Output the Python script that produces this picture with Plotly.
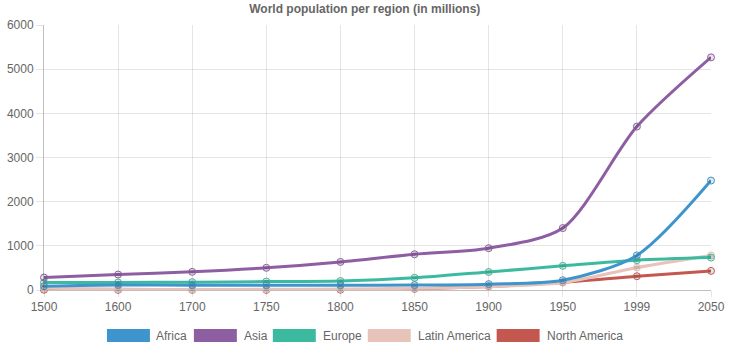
import plotly.graph_objects as go

years = ["1500", "1600", "1700", "1750", "1800", "1850", "1900", "1950", "1999", "2050"]
africa = [86, 114, 106, 106, 107, 111, 133, 221, 783, 2478]
asia = [282, 350, 411, 502, 635, 809, 947, 1402, 3700, 5267]
europe = [168, 170, 178, 190, 203, 276, 408, 547, 675, 734]
latin_america = [40, 20, 10, 16, 24, 38, 74, 167, 508, 784]
north_america = [6, 3, 2, 2, 7, 26, 82, 172, 312, 433]

series = [
    ("Africa", africa, "#3e95cd"),
    ("Asia", asia, "#8e5ea2"),
    ("Europe", europe, "#3cba9f"),
    ("Latin America", latin_america, "#e8c3b9"),
    ("North America", north_america, "#c45850"),
]

fig = go.Figure()
for name, vals, col in reversed(series):
    fig.add_trace(go.Scatter(
        x=years, y=vals, name=name, mode="lines+markers",
        line=dict(color=col, width=3, shape="spline", smoothing=0.8),
        marker=dict(size=7, color="rgba(0,0,0,0.1)", line=dict(color=col, width=1)),
        showlegend=False, cliponaxis=False,
    ))

# Legend drawn Chart.js style: boxes + labels (pixel positions)
legend_pos = [(107, 154), (194, 242), (273, 321), (368, 416), (497, 545)]
W, H = 734, 359
L, R, T, B = 44, 711.5, 25, 290
shapes = []
annotations = []
for (name, vals, col), (bx, tx) in zip(series, legend_pos):
    shapes.append(dict(type="rect", xref="paper", yref="paper",
                       x0=(bx - L) / (R - L), x1=(bx + 43 - L) / (R - L),
                       y0=(B - 342) / (B - T), y1=(B - 329) / (B - T),
                       fillcolor=col, line=dict(width=0)))
    annotations.append(dict(text=name, xref="paper", yref="paper",
                            x=(tx - L) / (R - L), y=(B - 335.5) / (B - T),
                            xanchor="left", yanchor="middle", showarrow=False,
                            font=dict(size=12, color="#666")))

fig.update_layout(
    width=W, height=H,
    margin=dict(l=L, r=W - R, t=T, b=H - B, autoexpand=False),
    paper_bgcolor="white", plot_bgcolor="white",
    font=dict(family="Liberation Sans, Arial, sans-serif", size=12, color="#666"),
    title=dict(text="<b>World population per region (in millions)</b>",
               x=0.497, xanchor="center", y=1 - 8.5 / H, yanchor="middle",
               font=dict(size=12, color="#666"), automargin=False),
    shapes=shapes, annotations=annotations,
    showlegend=False,
)
fig.update_xaxes(type="category", range=[0, 9], showgrid=True, automargin=False,
                 gridcolor="rgba(0,0,0,0.1)", ticks="outside", ticklen=6,
                 tickcolor="rgba(0,0,0,0.1)", showline=False, zeroline=False,
                 tickfont=dict(size=12, color="#666"))
fig.update_yaxes(range=[0, 6000], dtick=1000, showgrid=True, automargin=False,
                 gridcolor="rgba(0,0,0,0.1)", ticks="outside", ticklen=7,
                 tickcolor="rgba(0,0,0,0.1)", zeroline=True,
                 zerolinecolor="rgba(0,0,0,0.25)", zerolinewidth=1,
                 showline=True, linecolor="rgba(0,0,0,0.25)", linewidth=1,
                 tickfont=dict(size=12, color="#666"))

fig.write_html("out.html", config={"displayModeBar": False},
               post_script="document.body.style.margin='0';")
